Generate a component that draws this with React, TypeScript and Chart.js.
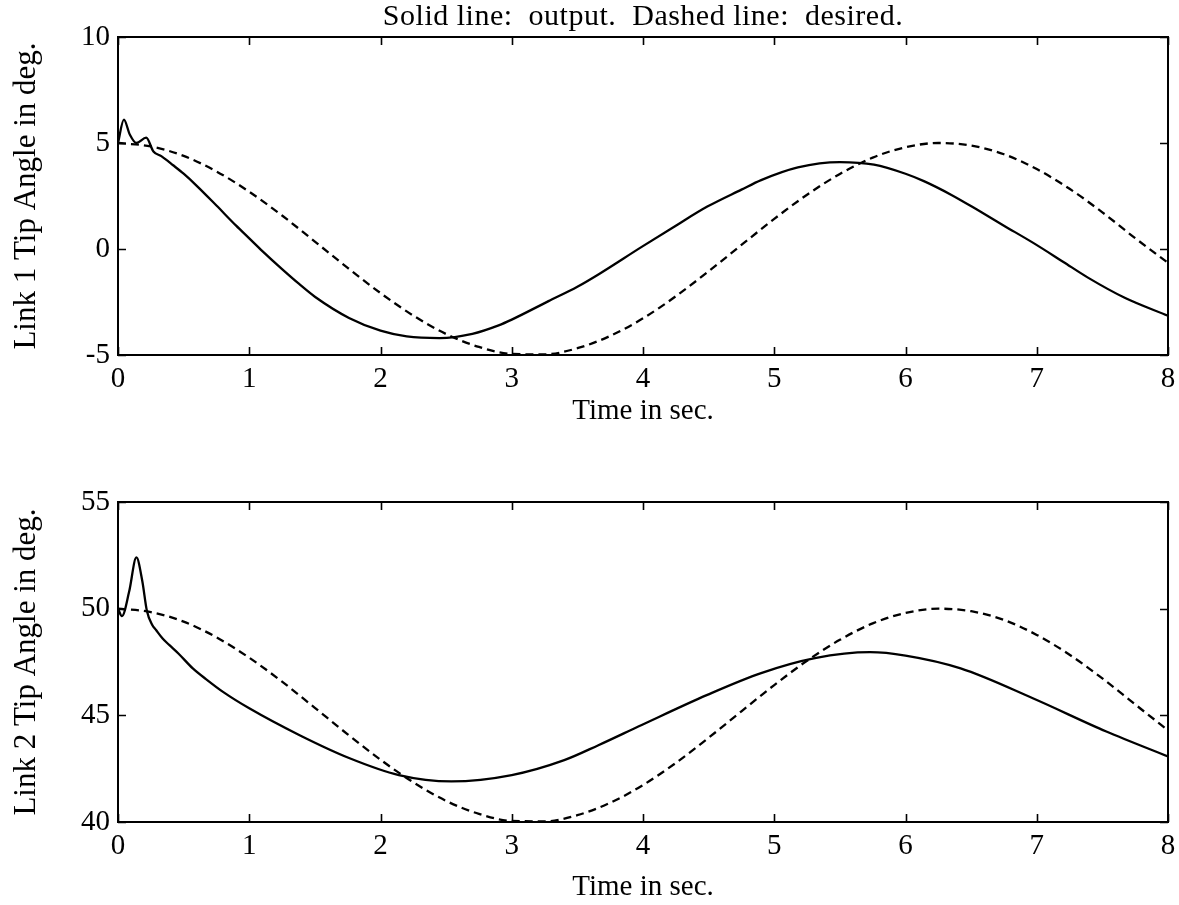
import React, { useEffect, useRef } from 'react';
import { Chart, registerables } from 'chart.js';

Chart.register(...registerables);

// ---------- data ----------
const titleText = 'Solid line:  output.  Dashed line:  desired.';
const xAxisTitle = 'Time in sec.';
const link1Label = 'Link 1 Tip Angle in deg.';
const link2Label = 'Link 2 Tip Angle in deg.';

const xTicks = [0, 1, 2, 3, 4, 5, 6, 7, 8];
const link1YTicks = [-5, 0, 5, 10];
const link2YTicks = [40, 45, 50, 55];

// desired (dashed) curves, sampled every 0.25 s
const desiredTime = [
  0, 0.25, 0.5, 0.75, 1, 1.25, 1.5, 1.75, 2, 2.25, 2.5, 2.75, 3, 3.25, 3.5, 3.75,
  4, 4.25, 4.5, 4.75, 5, 5.25, 5.5, 5.75, 6, 6.25, 6.5, 6.75, 7, 7.25, 7.5, 7.75, 8,
];
const link1Desired = [
  5, 4.84, 4.39, 3.66, 2.7, 1.58, 0.35, -0.89, -2.08, -3.14, -4.01, -4.62, -4.95, -4.97, -4.68, -4.1,
  -3.27, -2.23, -1.05, 0.19, 1.42, 2.56, 3.54, 4.31, 4.8, 5.0, 4.88, 4.47, 3.77, 2.84, 1.73, 0.51, -0.65,
];
const link2Desired = [
  50, 49.84, 49.39, 48.66, 47.7, 46.58, 45.35, 44.11, 42.92, 41.86, 40.99, 40.38, 40.05, 40.03, 40.32, 40.9,
  41.73, 42.77, 43.95, 45.19, 46.42, 47.56, 48.54, 49.31, 49.8, 50.0, 49.88, 49.47, 48.77, 47.84, 46.73, 45.51, 44.3,
];

// actual output (solid) curves
const link1OutputTime = [
  0, 0.045, 0.09, 0.14, 0.215, 0.27, 0.33, 0.42, 0.5, 0.6, 0.75, 0.9, 1.0, 1.1, 1.25, 1.38, 1.5,
  1.76, 2.0, 2.2, 2.45, 2.7, 2.9, 3.0, 3.28, 3.5, 3.66, 3.99, 4.25, 4.49, 4.75, 4.9, 5.18, 5.5,
  5.76, 6.0, 6.14, 6.35, 6.56, 6.75, 6.97, 7.2, 7.39, 7.67, 8.0,
];
const link1Output = [
  5.0, 6.1, 5.4, 5.0, 5.25, 4.6, 4.38, 3.95, 3.55, 2.98, 2.05, 1.1, 0.5, -0.1, -0.95, -1.65, -2.25,
  -3.25, -3.85, -4.12, -4.2, -4.0, -3.6, -3.33, -2.46, -1.78, -1.2, 0.1, 1.1, 2.0, 2.8, 3.25, 3.85, 4.1,
  3.98, 3.55, 3.2, 2.55, 1.8, 1.1, 0.3, -0.6, -1.35, -2.3, -3.15,
];

const link2OutputTime = [
  0, 0.03, 0.085, 0.14, 0.185, 0.22, 0.26, 0.29, 0.34, 0.39, 0.46, 0.57, 0.67, 0.8, 1.0, 1.38,
  1.76, 2.14, 2.54, 3.0, 3.4, 3.66, 3.99, 4.49, 4.9, 5.31, 5.73, 6.0, 6.42, 6.97, 7.53, 8.0,
];
const link2Output = [
  50.0, 49.65, 50.8, 52.4, 51.3, 49.9, 49.25, 49.0, 48.6, 48.3, 47.9, 47.2, 46.7, 46.1, 45.33, 44.08,
  43.0, 42.2, 41.9, 42.2, 42.9, 43.6, 44.55, 45.96, 46.98, 47.68, 47.96, 47.8, 47.2, 45.8, 44.24, 43.07,
];

// ---------- styling ----------
const FONT = "'Liberation Serif', 'Times New Roman', serif";
const FS = 29;

const framePlugin = {
  id: 'frameTicks',
  afterDatasetsDraw(chart: any) {
    const { ctx, chartArea, scales } = chart;
    const { left, right, top, bottom } = chartArea;
    const tl = 8;
    ctx.save();
    ctx.strokeStyle = '#000';
    ctx.lineWidth = 2;
    ctx.strokeRect(left, top, right - left, bottom - top);
    ctx.lineWidth = 1.6;
    ctx.beginPath();
    scales.x.ticks.forEach((t: any) => {
      const px = Math.round(scales.x.getPixelForValue(t.value)) + 0.5;
      ctx.moveTo(px, bottom);
      ctx.lineTo(px, bottom - tl);
      ctx.moveTo(px, top);
      ctx.lineTo(px, top + tl);
    });
    scales.y.ticks.forEach((t: any) => {
      const py = Math.round(scales.y.getPixelForValue(t.value)) + 0.5;
      ctx.moveTo(left, py);
      ctx.lineTo(left + tl, py);
      ctx.moveTo(right, py);
      ctx.lineTo(right - tl, py);
    });
    ctx.stroke();
    ctx.restore();
  },
};

const titlePlugin = {
  id: 'topTitle',
  afterDraw(chart: any) {
    const { ctx, chartArea } = chart;
    ctx.save();
    ctx.fillStyle = '#000';
    ctx.font = `30px ${FONT}`;
    try {
      (ctx as any).letterSpacing = '0.5px';
    } catch (e) {
      /* ignore */
    }
    ctx.textAlign = 'center';
    ctx.textBaseline = 'alphabetic';
    ctx.fillText(titleText, (chartArea.left + chartArea.right) / 2, 25);
    ctx.restore();
  },
};

function buildConfig(p: any) {
  return {
    type: 'line',
    data: {
      datasets: [
        {
          data: p.outTime.map((x: number, i: number) => ({ x, y: p.out[i] })),
          borderColor: '#000',
          borderWidth: 2.3,
          pointRadius: 0,
          fill: false,
          cubicInterpolationMode: 'monotone',
        },
        {
          data: desiredTime.map((x: number, i: number) => ({ x, y: p.desired[i] })),
          borderColor: '#000',
          borderWidth: 2.3,
          borderDash: [8, 5],
          pointRadius: 0,
          fill: false,
          cubicInterpolationMode: 'monotone',
        },
      ],
    },
    options: {
      responsive: false,
      animation: false,
      events: [],
      layout: { padding: { top: p.padTop, right: 11, left: 0, bottom: 0 } },
      plugins: { legend: { display: false }, tooltip: { enabled: false }, title: { display: false } },
      scales: {
        x: {
          type: 'linear',
          min: 0,
          max: 8,
          afterBuildTicks: (s: any) => {
            s.ticks = xTicks.map((v) => ({ value: v }));
          },
          ticks: { color: '#000', font: { family: FONT, size: FS }, padding: 7, maxRotation: 0, autoSkip: false },
          grid: { display: false, drawTicks: false },
          border: { display: false },
          title: {
            display: true,
            text: xAxisTitle,
            color: '#000',
            font: { family: FONT, size: FS },
            padding: { top: 0, bottom: p.xTitlePad },
          },
          afterFit: (s: any) => {
            s.height = p.xAxisHeight;
            s.paddingLeft = 0;
            s.paddingRight = 0;
          },
        },
        y: {
          type: 'linear',
          min: p.yTicks[0],
          max: p.yTicks[p.yTicks.length - 1],
          afterBuildTicks: (s: any) => {
            s.ticks = p.yTicks.map((v: number) => ({ value: v }));
          },
          ticks: { color: '#000', font: { family: FONT, size: FS }, padding: 8 },
          grid: { display: false, drawTicks: false },
          border: { display: false },
          title: {
            display: true,
            text: p.yLabel,
            color: '#000',
            font: { family: FONT, size: 31 },
            padding: { top: 8, bottom: 0 },
          },
          afterFit: (s: any) => {
            s.width = 118;
            s.paddingTop = 0;
            s.paddingBottom = 0;
          },
        },
      },
    },
    plugins: p.withTitle ? [framePlugin, titlePlugin] : [framePlugin],
  } as any;
}

export default function App() {
  const topRef = useRef<HTMLCanvasElement>(null);
  const botRef = useRef<HTMLCanvasElement>(null);

  useEffect(() => {
    const c1 = new Chart(
      topRef.current as HTMLCanvasElement,
      buildConfig({
        outTime: link1OutputTime,
        out: link1Output,
        desired: link1Desired,
        yTicks: link1YTicks,
        yLabel: link1Label,
        padTop: 37,
        xAxisHeight: 95,
        xTitlePad: 21,
        withTitle: true,
      })
    );
    const c2 = new Chart(
      botRef.current as HTMLCanvasElement,
      buildConfig({
        outTime: link2OutputTime,
        out: link2Output,
        desired: link2Desired,
        yTicks: link2YTicks,
        yLabel: link2Label,
        padTop: 52,
        xAxisHeight: 83,
        xTitlePad: 0,
        withTitle: false,
      })
    );
    return () => {
      c1.destroy();
      c2.destroy();
    };
  }, []);

  return (
    <div style={{ position: 'absolute', left: 0, top: 0, width: 1179, height: 905, background: '#fff' }}>
      <canvas ref={topRef} width={1179} height={450} style={{ position: 'absolute', left: 0, top: 0, display: 'block' }} />
      <canvas ref={botRef} width={1179} height={455} style={{ position: 'absolute', left: 0, top: 450, display: 'block' }} />
    </div>
  );
}
